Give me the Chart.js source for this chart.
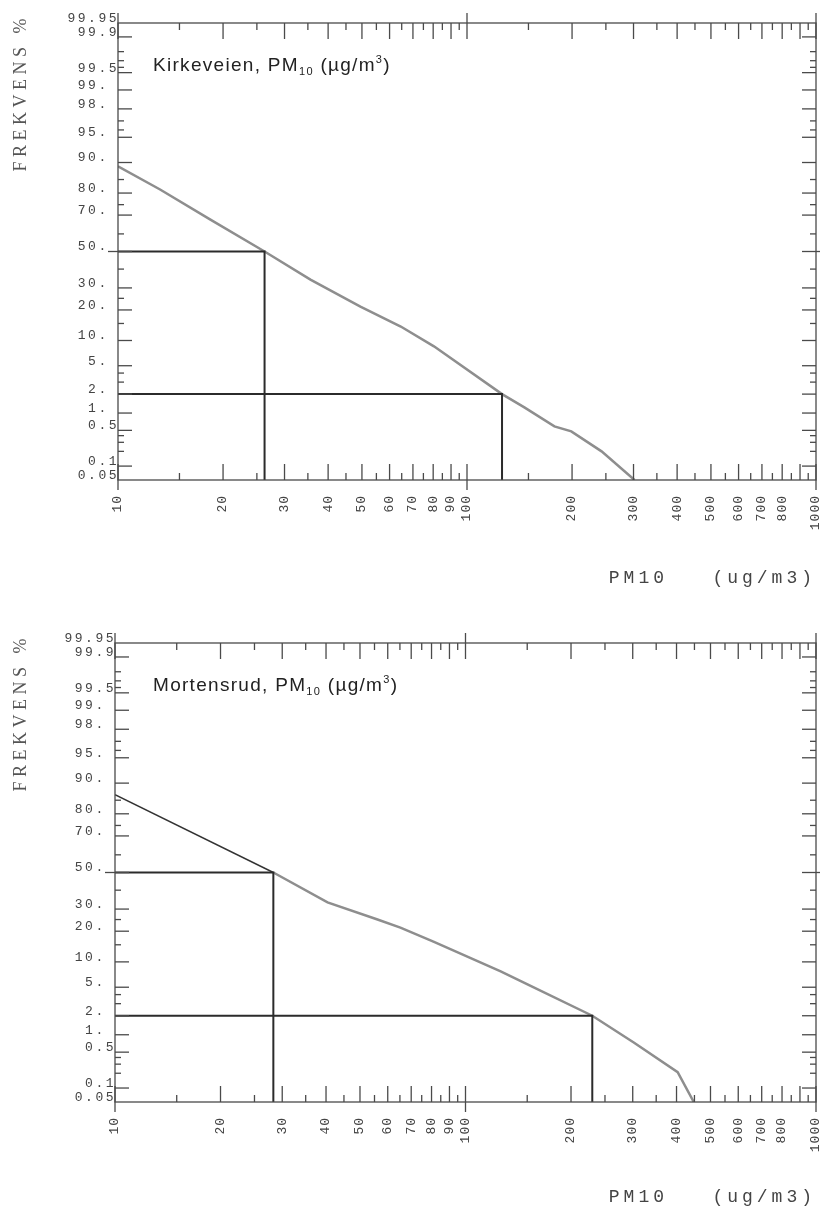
<!DOCTYPE html>
<html>
<head>
<meta charset="utf-8">
<script src="https://cdn.jsdelivr.net/npm/chart.js@4.4.1/dist/chart.umd.min.js"></script>
<style>
  html, body { margin: 0; padding: 0; background: #fff; overflow: hidden; }
  .panel { position: absolute; left: 0; }
</style>
</head>
<body>
<canvas id="kirkChart" class="panel" width="820" height="604" style="top:0"></canvas>
<canvas id="mortChart" class="panel" width="820" height="604" style="top:620px"></canvas>
<script>
/**
 * 1. Axis ticks and labels (shared by both panels)
 */
const xLabelVals = [10, 20, 30, 40, 50, 60, 70, 80, 90, 100, 200, 300, 400, 500, 600, 700, 800, 1000];
const xTickLong = [20, 30, 40, 50, 60, 70, 80, 90, 200, 300, 400, 500, 600, 700, 800, 900];
const xTickShort = [15, 25, 35, 45, 55, 65, 75, 85, 95, 150, 250, 350, 450, 550, 650, 750, 850, 950];
const xTickCross = [10, 100, 1000];

const yLabelVals = [99.95, 99.9, 99.5, 99, 98, 95, 90, 80, 70, 50, 30, 20, 10, 5, 2, 1, 0.5, 0.1, 0.05];
const yLabelText = ['99.95', '99.9', '99.5', '99. ', '98. ', '95. ', '90. ', '80. ', '70. ', '50. ',
                    '30. ', '20. ', '10. ', '5. ', '2. ', '1. ', '0.5', '0.1', '0.05'];
const yTickLong = [99.9, 99.5, 99, 98, 95, 90, 80, 70, 30, 20, 10, 5, 2, 1, 0.5, 0.1];
const yTickShort = [99.8, 99.7, 99.6, 97, 96, 85, 75, 60, 40, 25, 15, 4, 3, 0.4, 0.3, 0.2];
const yTickCross = [50];

/**
 * 2. Cumulative frequency curves (concentration ug/m3 vs % exceeding)
 */
const kirkConc = [10, 13.2, 18.4, 26.3, 35.6, 49.5, 64.6, 80.4, 126, 146, 178, 199, 243, 302];
const kirkFreq = [89, 81.4, 67.7, 50, 34.3, 21.4, 14, 8.6, 2.0, 1.24, 0.59, 0.48, 0.2, 0.05];
const kirkGuideConc = [26.3, 126];

const mortConc = [10, 28.3, 40.4, 56.1, 65.2, 81, 126, 156, 230, 302, 403, 448];
const mortFreq = [86.8, 50, 33.4, 25, 21.5, 16.1, 7.8, 5.0, 2.0, 0.74, 0.21, 0.05];
const mortGuideConc = [28.3, 230];

const guideFreq = [50, 2];

// letter spacing for the typewriter-style axis text
const textGap = {
    x: { ticks: '1px', title: '4px', shift: [0, 0] },
    y: { ticks: '2.5px', title: '4.5px', shift: [0, -9] }
};

const axisColor = '#4a4a4a';
const labelColor = '#444';

// inverse normal CDF (Acklam) - used by the probability axis
function probit(p) {
    const a = [-39.69683028665376, 220.9460984245205, -275.9285104469687, 138.3577518672690, -30.66479806614716, 2.506628277459239];
    const b = [-54.47609879822406, 161.5858368580409, -155.6989798598866, 66.80131188771972, -13.28068155288572];
    const c = [-0.007784894002430293, -0.3223964580411365, -2.400758277161838, -2.549732539343734, 4.374664141464968, 2.938163982698783];
    const d = [0.007784695709041462, 0.3224671290700398, 2.445134137142996, 3.754408661907416];
    if (p <= 0) return -8;
    if (p >= 1) return 8;
    const lo = 0.02425;
    let q, r;
    if (p < lo || p > 1 - lo) {
        q = Math.sqrt(-2 * Math.log(p < lo ? p : 1 - p));
        const v = (((((c[0] * q + c[1]) * q + c[2]) * q + c[3]) * q + c[4]) * q + c[5]) /
                  ((((d[0] * q + d[1]) * q + d[2]) * q + d[3]) * q + 1);
        return p < lo ? v : -v;
    }
    q = p - 0.5; r = q * q;
    return (((((a[0] * r + a[1]) * r + a[2]) * r + a[3]) * r + a[4]) * r + a[5]) * q /
           (((((b[0] * r + b[1]) * r + b[2]) * r + b[3]) * r + b[4]) * r + 1);
}

function spaced(scale, gap, fn) {
    const ctx = scale.ctx;
    ctx.save();
    ctx.letterSpacing = gap;
    fn();
    ctx.restore();
}

/**
 * 3. Custom scales: normal-probability y axis and a log x axis with spaced text
 */
class ProbitScale extends Chart.Scale {
    static id = 'probit';
    static defaults = {};
    determineDataLimits() {
        this.min = this.options.min;
        this.max = this.options.max;
    }
    buildTicks() {
        return yLabelVals.map(v => ({ value: v }));
    }
    getLabelForValue(v) { return String(v); }
    getPixelForValue(v) {
        const z0 = probit(this.min / 100), z1 = probit(this.max / 100);
        return this.getPixelForDecimal((probit(v / 100) - z0) / (z1 - z0));
    }
    getValueForPixel() { return null; }
    drawLabels(area) { spaced(this, textGap.y.ticks, () => super.drawLabels(area)); }
    drawTitle() {
        spaced(this, textGap.y.title, () => {
            this.ctx.translate(...textGap.y.shift);
            super.drawTitle();
        });
    }
}

class SpacedLogScale extends Chart.LogarithmicScale {
    static id = 'spacedLog';
    static defaults = {};
    drawLabels(area) { spaced(this, textGap.x.ticks, () => super.drawLabels(area)); }
    drawTitle() { spaced(this, textGap.x.title, () => super.drawTitle()); }
}

Chart.register(ProbitScale, SpacedLogScale);

/**
 * 4. Frame and tick marks drawn through the chart's scales
 */
const probFrame = {
    id: 'probFrame',
    afterDraw(chart) {
        const { ctx, chartArea: a, scales: { x, y } } = chart;
        ctx.save();
        ctx.strokeStyle = axisColor;
        ctx.lineWidth = 1.3;
        ctx.strokeRect(a.left, a.top, a.right - a.left, a.bottom - a.top);
        const seg = (x1, y1, x2, y2) => {
            ctx.beginPath(); ctx.moveTo(x1, y1); ctx.lineTo(x2, y2); ctx.stroke();
        };
        const xMarks = (vals, up, down) => vals.forEach(v => {
            const px = x.getPixelForValue(v);
            seg(px, a.bottom + down, px, a.bottom - up);
            seg(px, a.top - down, px, a.top + up);
        });
        xMarks(xTickLong, 16, 0);
        xMarks(xTickShort, 7, 0);
        xMarks(xTickCross, 16, 10);

        const yMarks = (vals, inward, outward) => vals.forEach(v => {
            const py = y.getPixelForValue(v);
            seg(a.left - outward, py, a.left + inward, py);
            seg(a.right + outward, py, a.right - inward, py);
        });
        yMarks(yTickLong, 14, 0);
        yMarks(yTickShort, 6, 0);
        yMarks(yTickCross, 14, 10);
        ctx.restore();
    }
};

const panelTitle = {
    id: 'panelTitle',
    afterDraw(chart, args, opts) {
        const { ctx, chartArea: a } = chart;
        ctx.save();
        ctx.fillStyle = '#222';
        ctx.letterSpacing = '1.3px';
        ctx.textBaseline = 'alphabetic';
        let x = a.left + opts.dx;
        const y = a.top + 48;
        const put = (t, size, dy) => {
            ctx.font = size + 'px "Liberation Sans"';
            ctx.fillText(t, x, y + dy);
            x += ctx.measureText(t).width;
        };
        put(opts.text + ', PM', 19, 0);
        put('10', 11, 4);
        put(' (µg/m', 19, 0);
        put('3', 11, -8);
        put(')', 19, 0);
        ctx.restore();
    }
};

/**
 * 5. Panels
 */
function guideLine(conc, freq) {
    return {
        data: [{ x: 10, y: freq }, { x: conc, y: freq }, { x: conc, y: 0.05 }],
        borderColor: '#2b2b2b', borderWidth: 2, pointRadius: 0, tension: 0
    };
}

function makePanel(p) {
    const curve = {
        data: p.conc.map((c, i) => ({ x: c, y: p.freq[i] })),
        borderColor: '#8e8e8e', borderWidth: 2.5, pointRadius: 0, tension: 0,
        segment: p.darkFirst ? {
            borderColor: s => s.p0DataIndex === 0 ? '#333' : undefined,
            borderWidth: s => s.p0DataIndex === 0 ? 1.4 : undefined
        } : {}
    };
    return new Chart(document.getElementById(p.canvas), {
        type: 'line',
        data: { datasets: [guideLine(p.guides[0], guideFreq[0]), guideLine(p.guides[1], guideFreq[1]), curve] },
        options: {
            responsive: false, animation: false, events: [], devicePixelRatio: 1,
            layout: { padding: { top: 23, right: 4, left: 0, bottom: 0 } },
            plugins: {
                legend: { display: false }, tooltip: { enabled: false },
                panelTitle: { text: p.name, dx: p.titleDx }
            },
            scales: {
                x: {
                    type: 'spacedLog', position: 'bottom', min: 10, max: 1000,
                    afterBuildTicks: s => { s.ticks = xLabelVals.map(v => ({ value: v })); },
                    afterFit: s => { s.height = p.xHeight; s.paddingLeft = 0; s.paddingRight = 0; },
                    grid: { display: false, drawTicks: false }, border: { display: false },
                    ticks: {
                        autoSkip: false, minRotation: 90, maxRotation: 90, padding: 15,
                        color: labelColor, font: { family: 'Liberation Mono', size: 13 },
                        callback: v => String(v)
                    },
                    title: {
                        display: true, text: 'PM10   (ug/m3)', align: 'end', color: labelColor,
                        font: { family: 'Liberation Mono', size: 18 }, padding: { top: 0, bottom: p.titlePad }
                    }
                },
                y: {
                    type: 'probit', position: 'left', min: 0.05, max: 99.95,
                    afterFit: s => { s.width = p.leftWidth; s.paddingTop = 0; s.paddingBottom = 0; },
                    grid: { display: false, drawTicks: false }, border: { display: false },
                    ticks: {
                        autoSkip: false, padding: -1, labelOffset: -4.5,
                        color: labelColor, font: { family: 'Liberation Mono', size: 13 },
                        callback: (v, i) => yLabelText[i]
                    },
                    title: {
                        display: true, text: 'FREKVENS %', align: 'end', color: '#555',
                        font: { family: 'Liberation Serif', size: 18 }, padding: { top: 10, bottom: 0 }
                    }
                }
            }
        },
        plugins: [probFrame, panelTitle]
    });
}

makePanel({ canvas: 'kirkChart', name: 'Kirkeveien', conc: kirkConc, freq: kirkFreq, guides: kirkGuideConc,
            leftWidth: 118, xHeight: 124, titlePad: 15, titleDx: 35, darkFirst: false });
makePanel({ canvas: 'mortChart', name: 'Mortensrud', conc: mortConc, freq: mortFreq, guides: mortGuideConc,
            leftWidth: 115, xHeight: 122, titlePad: 16, titleDx: 38, darkFirst: true });
</script>
</body>
</html>
